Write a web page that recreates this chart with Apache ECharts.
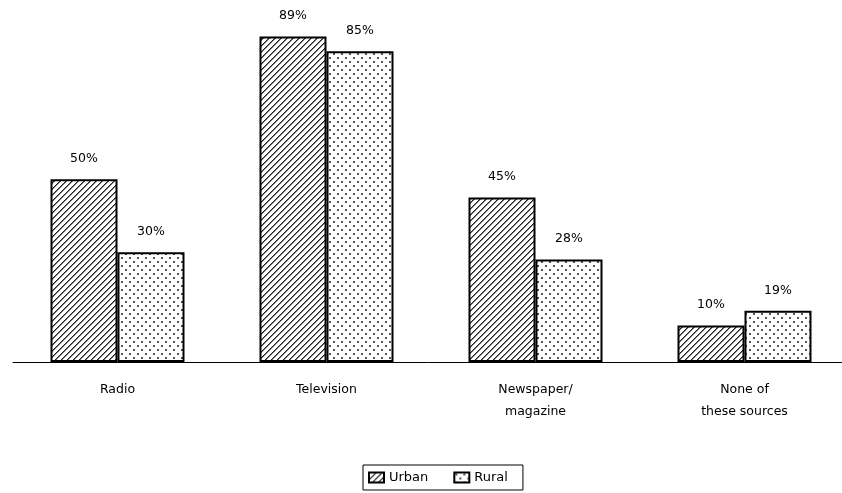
<!DOCTYPE html>
<html>
<head>
<meta charset="utf-8">
<script src="https://cdn.jsdelivr.net/npm/echarts@6/dist/echarts.min.js"></script>
<style>
html,body{margin:0;padding:0;background:#fff;}
#chart{width:842px;height:493px;}
</style>
</head>
<body>
<div id="chart"></div>
<script>
const categories = ['Radio', 'Television', 'Newspaper/\nmagazine', 'None of\nthese sources'];
const seriesNames = ['Urban', 'Rural'];
const urbanValues = [50, 89, 45, 10];
const ruralValues = [30, 85, 28, 14];
const urbanLabels = ['50%', '89%', '45%', '10%'];
const ruralLabels = ['30%', '85%', '28%', '19%'];

function makeHatch() {
  const s = 6;
  const c = document.createElement('canvas');
  c.width = s; c.height = s;
  const ctx = c.getContext('2d');
  const img = ctx.createImageData(s, s);
  for (let y = 0; y < s; y++) {
    for (let x = 0; x < s; x++) {
      const k = (x + y) % s;
      const v = k === 0 ? 30 : (k === 1 ? 120 : 255);
      const i = (y * s + x) * 4;
      img.data[i] = v; img.data[i + 1] = v; img.data[i + 2] = v; img.data[i + 3] = 255;
    }
  }
  ctx.putImageData(img, 0, 0);
  return c;
}
function makeDots() {
  const s = 8;
  const c = document.createElement('canvas');
  c.width = s; c.height = s;
  const ctx = c.getContext('2d');
  ctx.fillStyle = '#fff';
  ctx.fillRect(0, 0, s, s);
  ctx.fillStyle = '#555';
  ctx.fillRect(1, 1, 2, 2);
  ctx.fillRect(5, 5, 2, 2);
  return c;
}

const font = 'DejaVu Sans';
const chart = echarts.init(document.getElementById('chart'), null, {renderer: 'canvas'});
chart.setOption({
  animation: false,
  backgroundColor: '#fff',
  textStyle: {fontFamily: font, color: '#000'},
  grid: {left: 13, width: 836, top: 0, height: 362, containLabel: false, outerBoundsMode: 'none'},
  legend: {
    data: seriesNames,
    left: 363, top: 465,
    orient: 'horizontal',
    icon: 'rect',
    itemWidth: 15, itemHeight: 10, itemGap: 25,
    borderColor: '#000', borderWidth: 1,
    padding: [6, 15, 6, 5],
    textStyle: {fontFamily: font, fontSize: 13, color: '#000'}
  },
  xAxis: {
    type: 'category',
    data: categories,
    axisLine: {show: true, lineStyle: {color: '#000', width: 1}},
    axisTick: {show: false},
    axisLabel: {fontFamily: font, fontSize: 12.5, color: '#000', margin: 17, lineHeight: 22, interval: 0}
  },
  yAxis: {
    type: 'value', min: 0, max: 99,
    show: false,
    splitLine: {show: false}
  },
  series: [
    {
      name: seriesNames[0], type: 'bar', data: urbanValues,
      barWidth: 67, barGap: '0%',
      itemStyle: {color: {image: makeHatch(), repeat: 'repeat'}, borderColor: '#000', borderWidth: 2},
      label: {show: true, position: 'top', distance: 14, fontFamily: font, fontSize: 12.5, color: '#000',
        formatter: p => urbanLabels[p.dataIndex]}
    },
    {
      name: seriesNames[1], type: 'bar', data: ruralValues,
      barWidth: 67, barGap: '0%',
      itemStyle: {color: {image: makeDots(), repeat: 'repeat'}, borderColor: '#000', borderWidth: 2},
      label: {show: true, position: 'top', distance: 14, fontFamily: font, fontSize: 12.5, color: '#000',
        formatter: p => ruralLabels[p.dataIndex]}
    }
  ]
});
</script>
</body>
</html>
